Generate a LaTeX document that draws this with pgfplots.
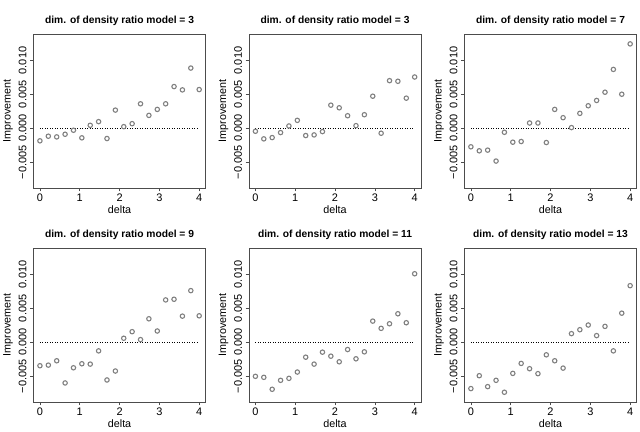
\documentclass[border=0pt]{standalone}
\usepackage{fontspec}
\setmainfont{Liberation Sans}
\usepackage{pgfplots}
\usepackage{pgfplotstable}
\pgfplotsset{compat=1.18}

% improvement by delta, one column per panel
\pgfplotstableread{
x      da       db       dc       dd       de       df
0.0000 -0.00185 -0.00044 -0.00273 -0.00346 -0.00502 -0.00683
0.2105 -0.00117 -0.00156 -0.00332 -0.00337 -0.00517 -0.00493
0.4211 -0.00127 -0.00137 -0.00322 -0.00273 -0.00693 -0.00654
0.6316 -0.00088 -0.00063 -0.00483 -0.00600 -0.00561 -0.00561
0.8421 -0.00029  0.00034 -0.00059 -0.00376 -0.00532 -0.00737
1.0526 -0.00141  0.00117 -0.00205 -0.00317 -0.00439 -0.00459
1.2632  0.00044 -0.00107 -0.00195 -0.00322 -0.00220 -0.00312
1.4737  0.00098 -0.00098  0.00078 -0.00127 -0.00322 -0.00390
1.6842 -0.00151 -0.00049  0.00078 -0.00556 -0.00146 -0.00463
1.8947  0.00268  0.00341 -0.00210 -0.00424 -0.00205 -0.00185
2.1053  0.00024  0.00302  0.00278  0.00059 -0.00288 -0.00273
2.3158  0.00068  0.00185  0.00156  0.00156 -0.00107 -0.00381
2.5263  0.00361  0.00039  0.00010  0.00039 -0.00244  0.00127
2.7368  0.00190  0.00200  0.00220  0.00346 -0.00141  0.00185
2.9474  0.00278  0.00473  0.00332  0.00166  0.00312  0.00254
3.1579  0.00361 -0.00073  0.00410  0.00624  0.00205  0.00098
3.3684  0.00615  0.00702  0.00532  0.00634  0.00273  0.00234
3.5789  0.00566  0.00693  0.00868  0.00385  0.00420 -0.00127
3.7895  0.00888  0.00444  0.00502  0.00761  0.00288  0.00429
4.0000  0.00571  0.00756  0.01244  0.00390  0.01010  0.00834
}\improv

\definecolor{pts}{gray}{0.5}
\definecolor{frame}{gray}{0.3}

\pgfplotsset{
  panel/.style={
    scale only axis, width=172bp, height=154bp,
    anchor=south west,
    xmin=-0.16, xmax=4.16, ymin=-0.0088, ymax=0.0139,
    xtick={0,1,2,3,4}, ytick={-0.005,0,0.005,0.01},
    scaled y ticks=false,
    yticklabels={−0.005,0.000,0.005,0.010},
    yticklabel style={rotate=90, anchor=south},
    /pgf/number format/assume math mode=true,
    tick align=outside, tick pos=left,
    major tick length=3.5bp,
    axis line style={frame, line width=0.7pt},
    tick style={frame, line width=0.7pt},
    ticklabel style={font=\fontsize{11}{12}\selectfont},
    xticklabel style={yshift=1bp},
    label style={font=\fontsize{10.8}{12}\selectfont},
    xlabel={delta}, ylabel={Improvement},
    xlabel style={yshift=2.5bp},
    ylabel style={yshift=-1bp},
    title style={font=\bfseries\fontsize{10.3}{12}\selectfont, yshift=-1.5bp},
  },
  pt/.style={only marks, mark=*, mark size=2.2bp,
    mark options={draw=pts, fill=white, line width=1.1pt}},
  zero/.style={black, dotted, line width=0.5pt},
}

\begin{document}
\begin{tikzpicture}
\path (0bp,0bp) rectangle (640bp,429bp);

\begin{axis}[panel, at={(33.5bp,241bp)}, title={dim. of density ratio model = 3}]
\addplot[zero] coordinates {(0,0) (4,0)};
\addplot[pt] table[x=x, y=da] {\improv};
\end{axis}

\begin{axis}[panel, at={(249bp,241bp)}, title={dim. of density ratio model = 3}]
\addplot[zero] coordinates {(0,0) (4,0)};
\addplot[pt] table[x=x, y=db] {\improv};
\end{axis}

\begin{axis}[panel, at={(464.5bp,241bp)}, title={dim. of density ratio model = 7}]
\addplot[zero] coordinates {(0,0) (4,0)};
\addplot[pt] table[x=x, y=dc] {\improv};
\end{axis}

\begin{axis}[panel, at={(33.5bp,27bp)}, title={dim. of density ratio model = 9}]
\addplot[zero] coordinates {(0,0) (4,0)};
\addplot[pt] table[x=x, y=dd] {\improv};
\end{axis}

\begin{axis}[panel, at={(249bp,27bp)}, title={dim. of density ratio model = 11}]
\addplot[zero] coordinates {(0,0) (4,0)};
\addplot[pt] table[x=x, y=de] {\improv};
\end{axis}

\begin{axis}[panel, at={(464.5bp,27bp)}, title={dim. of density ratio model = 13}]
\addplot[zero] coordinates {(0,0) (4,0)};
\addplot[pt] table[x=x, y=df] {\improv};
\end{axis}
\end{tikzpicture}
\end{document}
